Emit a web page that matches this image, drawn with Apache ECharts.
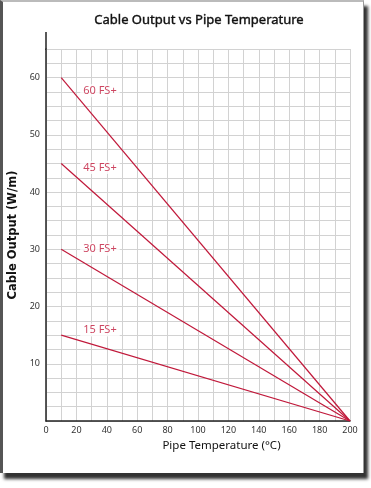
<!DOCTYPE html>
<html>
<head>
<meta charset="utf-8">
<script src="https://cdn.jsdelivr.net/npm/echarts@6/dist/echarts.min.js"></script>
<style>
html,body{margin:0;padding:0;background:#fff;}
#wrap{position:relative;width:371px;height:488px;overflow:hidden;background:#fff;}
#frame{position:absolute;left:0;top:0;width:360px;height:471px;border-left:3px solid #555;border-top:2px solid #bbb;border-right:1px solid #999;background:#fff;box-shadow:4px 6px 3px #333;}
#chart{position:absolute;left:0;top:0;width:371px;height:488px;}
</style>
</head>
<body>
<div id="wrap"><div id="frame"></div><div id="chart"></div></div>
<script>
// data
const temps = [10, 200];
const series60 = [60, 0];
const series45 = [45, 0];
const series30 = [30, 0];
const series15 = [15, 0];
const seriesNames = ['60 FS+', '45 FS+', '30 FS+', '15 FS+'];
const labelX = [35.5, 35.5, 35.5, 35.5];
const labelY = [57.7, 44.3, 30.0, 15.9];
const xTickLabels = [0, 20, 40, 60, 80, 100, 120, 140, 160, 180, 200];
const yTickLabels = [10, 20, 30, 40, 50, 60];

const red = '#c0183a';
const font = 'Noto Sans';
const allSeries = [series60, series45, series30, series15];

const chart = echarts.init(document.getElementById('chart'), null, {renderer: 'canvas'});
const lineSeries = allSeries.map((s, i) => ({
  type: 'line',
  name: seriesNames[i],
  data: temps.map((t, j) => [t, s[j]]),
  symbol: 'none',
  lineStyle: {color: red, width: 1.2},
  silent: true,
  z: 3
}));
const labelSeries = {
  type: 'scatter',
  symbolSize: 0,
  data: seriesNames.map((n, i) => ({value: [labelX[i], labelY[i]], name: n})),
  label: {
    show: true, position: 'inside',
    formatter: p => p.name,
    color: red, fontFamily: font, fontSize: 11,
    backgroundColor: '#fff', padding: [1, 3]
  },
  z: 5, silent: true
};
chart.setOption({
  animation: false,
  title: {
    text: 'Cable Output vs Pipe Temperature',
    left: 194, top: 9, textAlign: 'center',
    textStyle: {fontFamily: font, fontSize: 13, fontWeight: 'normal', color: '#111',
      textBorderColor: '#111', textBorderWidth: 0.4}
  },
  grid: {left: 46, right: 21, top: 49, bottom: 67, outerBoundsMode: 'none'},
  xAxis: {
    type: 'value', min: 0, max: 200, interval: 10,
    name: 'Pipe Temperature (°C)', nameLocation: 'middle', nameGap: 19,
    nameTextStyle: {fontFamily: font, fontSize: 11.5, color: '#111', padding: [0, 0, 0, 47]},
    axisLine: {show: true, lineStyle: {color: '#222', width: 1.5}},
    axisTick: {show: false},
    axisLabel: {
      fontFamily: font, fontSize: 9, color: '#333', margin: 5,
      formatter: v => xTickLabels.indexOf(v) >= 0 ? String(v) : ''
    },
    splitLine: {show: true, lineStyle: {color: '#d2d2d2', width: 1}}
  },
  yAxis: {
    type: 'value', min: 0, max: 65, interval: 2.5,
    name: 'Cable Output (W/m)', nameLocation: 'middle', nameGap: 23,
    nameTextStyle: {fontFamily: 'DejaVu Sans', fontSize: 11.5, fontWeight: 'bold', color: '#111'},
    axisLine: {show: true, lineStyle: {color: '#222', width: 1.5}},
    axisTick: {show: false},
    axisLabel: {
      fontFamily: font, fontSize: 9, color: '#333', margin: 6,
      formatter: v => yTickLabels.indexOf(v) >= 0 ? String(v) : ''
    },
    splitLine: {show: true, lineStyle: {color: '#d2d2d2', width: 1}}
  },
  graphic: [{
    type: 'line', shape: {x1: 46, y1: 32, x2: 46, y2: 50},
    style: {stroke: '#222', lineWidth: 1.5}
  }],
  series: lineSeries.concat([labelSeries])
});
</script>
</body>
</html>
